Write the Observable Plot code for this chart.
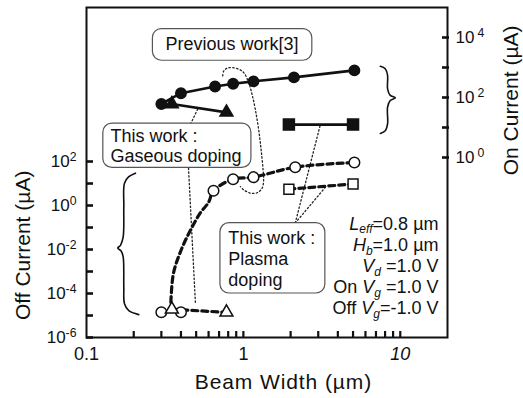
<!DOCTYPE html>
<html><head><meta charset="utf-8">
<script src="https://cdn.jsdelivr.net/npm/d3@7"></script>
<script src="https://cdn.jsdelivr.net/npm/@observablehq/plot@0.6"></script>
<style>
body{margin:0;background:#fff;}
svg{font-family:"Liberation Sans",Arial,sans-serif;}
</style>
</head><body><div id="chart"></div>
<script>
// ---------- data ----------
// Previous work [3]: on current (filled circles) and off current (open circles)
const prevOnX = [0.3, 0.4, 0.66, 0.86, 1.16, 2.1, 5.1];
const prevOnY = [61, 139, 233, 288, 345, 468, 800];          // µA (right axis)
const prevOffX = [0.3, 0.4, 0.645, 0.86, 1.16, 2.14, 5.1];
const prevOffY = [1.4e-5, 1.4e-5, 4.7, 15.7, 19.4, 55, 90];  // µA (left axis)
// dashed trend drawn from the bottom points up to the off-current circles
const prevOffFitX = [0.345, 0.358, 0.40, 0.46, 0.53, 0.6, 0.645];
const prevOffFitY = [3.9e-5, 8e-4, 9e-3, 0.076, 0.45, 1.4, 4.7];
// This work: gaseous doping (triangles)
const gasX = [0.35, 0.78];
const gasOnY = [61, 32];
const gasOffY = [1.9e-5, 1.4e-5];
// This work: plasma doping (squares)
const plasmaX = [1.95, 5.0];
const plasmaOnY = [12.5, 12.5];
const plasmaOffY = [5.5, 9.5];

// axes
const xTickValues = [0.2,0.3,0.4,0.5,0.6,0.7,0.8,0.9,1,2,3,4,5,6,7,8,9,10];
const xLabelValues = [0.1, 1, 10];
const xLabelTexts = ["0.1", "1", "10"];
const xLabelItalic = [false, false, true];
const offTickExps = [-6,-5,-4,-3,-2,-1,0,1,2];
const offLabelExps = [-6,-4,-2,0,2];
const onTickExps = [0,1,2,3,4];
const onLabelExps = [0,2,4];

// annotations (data coordinates: x in µm, y as log10 of off-current scale unless noted)
const boxes = [
  {x1: 0.265, x2: 2.75, e1: 8.02, e2: 6.58},   // Previous work[3]
  {x1: 0.128, x2: 1.125, e1: 3.72, e2: 1.71},  // gaseous
  {x1: 0.714, x2: 3.33, e1: -0.80, e2: -4.0}   // plasma
];
const labelPrev = {x: 0.845, e: 7.33, text: "Previous work[3]"};
const gasLabelX = 0.142, gasLabelE = [3.13, 2.25], gasLabelText = ["This work :", "Gaseous doping"];
const plasmaLabelX = 0.802, plasmaLabelE = [-1.49, -2.45, -3.41], plasmaLabelText = ["This work :", "Plasma", "doping"];
const paramE = [-0.85, -1.81, -2.77, -3.73, -4.69];
const paramParts = [
  [["L","i"],["eff","s"],["=0.8 µm",""]],
  [["H","i"],["b","s"],["=1.0 µm",""]],
  [["V","i"],["d","s"],[" =1.0 V",""]],
  [["On ",""],["V","i"],["g","s"],[" =1.0 V",""]],
  [["Off ",""],["V","i"],["g","s"],["=-1.0 V",""]]
];
// dotted leader lines [x, e]
const leaders = [
  [[0.46, 3.70], [0.517, 4.45]],
  [[0.447, 1.70], [0.495, -4.5]],
  [[2.14, -0.80], [3.1, 3.70]],
  [[2.14, -0.80], [3.33, 0.83]]
];
const loopX = [0.738,0.749,0.787,0.847,0.934,1.005,1.081,1.136,1.192,1.251,1.297,1.335,1.346,1.315,1.223,1.109,1.005,0.957];
const loopE = [5.89,6.11,6.24,6.27,6.19,6.04,5.58,5.05,4.36,3.45,2.54,1.62,1.17,0.78,0.58,0.56,0.71,0.86];
// braces
const braceLX = [0.205,0.186,0.1746,0.1729,0.1713,0.1647,0.1582,0.1663,0.1713,0.1729,0.1746,0.186,0.2153];
const braceLE = [1.47,1.31,1.01,-0.06,-1.43,-1.81,-1.93,-2.07,-2.34,-3.71,-4.47,-4.78,-4.96];
const braceRX = [7.46,8.02,8.30,8.30,8.63,9.29,8.63,8.30,8.30,8.02,7.46];
const braceRE = [3.04,2.96,2.74,2.29,2.07,1.99,1.90,1.68,1.12,0.89,0.80]; // log10 on-current

// ---------- helpers ----------
// right axis (on current, 1e-6..1e5) shares the frame with left axis (off current, 1e-6..1e9)
const onY = v => 10 ** (-6 + (Math.log10(v) + 6) * 15 / 11);
const P = e => 10 ** e;

const W = 523, H = 398, mL = 86, mR = 76, mT = 7, mB = 61;
const fw = W - mL - mR, fh = H - mT - mB;

const onPrev = prevOnX.map((x, i) => ({x, y: onY(prevOnY[i])}));
const offPrev = prevOffX.map((x, i) => ({x, y: prevOffY[i]}));
const offPrevLine = prevOffFitX.map((x, i) => ({x, y: prevOffFitY[i]}))
  .concat(offPrev.slice(3));
const onGas = gasX.map((x, i) => ({x, y: onY(gasOnY[i])}));
const offGas = gasX.map((x, i) => ({x, y: gasOffY[i]}));
const onPlasma = plasmaX.map((x, i) => ({x, y: onY(plasmaOnY[i])}));
const offPlasma = plasmaX.map((x, i) => ({x, y: plasmaOffY[i]}));

const leaderRows = leaders.flatMap((l, k) => l.map(([x, e]) => ({x, y: P(e), k})));
const loopRows = loopX.map((x, i) => ({x, y: P(loopE[i])}));
const braceL = braceLX.map((x, i) => ({x, y: P(braceLE[i])}));
const braceR = braceRX.map((x, i) => ({x, y: onY(P(braceRE[i]))}));

const ink = "#111";
const dotted = {stroke: "#222", strokeWidth: 1.3, strokeDasharray: "1.4,2.4"};
const thickDash = {stroke: ink, strokeWidth: 3.2, strokeDasharray: "6,4"};

const chart = Plot.plot({
  width: W, height: H,
  marginLeft: mL, marginRight: mR, marginTop: mT, marginBottom: mB,
  x: {type: "log", domain: [0.1, 20], axis: null},
  y: {type: "log", domain: [1e-6, 1e9], axis: null},
  style: {fontFamily: "'Liberation Sans', Arial, sans-serif", color: ink, background: "white"},
  marks: [
    // ticks
    Plot.ruleX(xTickValues, {x: d => d, insetTop: fh - 6, stroke: ink, strokeWidth: 2.2}),
    Plot.ruleY(offTickExps, {y: e => P(e), insetRight: fw - 7, stroke: ink, strokeWidth: 2.6}),
    Plot.ruleY(onTickExps, {y: e => onY(P(e)), insetLeft: fw - 5, insetRight: -2, stroke: ink, strokeWidth: 2.6}),
    // leaders & loop
    Plot.line(leaderRows, {x: "x", y: "y", z: "k", ...dotted}),
    Plot.line(loopRows, {x: "x", y: "y", curve: "catmull-rom", ...dotted}),
    // braces
    Plot.line(braceL, {x: "x", y: "y", curve: "catmull-rom", stroke: ink, strokeWidth: 1.6}),
    Plot.line(braceR, {x: "x", y: "y", curve: "catmull-rom", stroke: ink, strokeWidth: 1.6}),
    // boxes
    Plot.rect(boxes, {x1: "x1", x2: "x2", y1: d => P(d.e1), y2: d => P(d.e2), rx: 9, fill: "white", stroke: "#555", strokeWidth: 1.2}),
    // data lines
    Plot.line(onPrev, {x: "x", y: "y", stroke: ink, strokeWidth: 2.6}),
    Plot.line(onGas, {x: "x", y: "y", stroke: ink, strokeWidth: 2.6}),
    Plot.line(onPlasma, {x: "x", y: "y", stroke: ink, strokeWidth: 2.6}),
    Plot.line(offPrevLine, {x: "x", y: "y", curve: "catmull-rom", ...thickDash}),
    Plot.line(offGas, {x: "x", y: "y", ...thickDash}),
    Plot.line(offPlasma, {x: "x", y: "y", ...thickDash}),
    // markers
    Plot.dot(onPrev, {x: "x", y: "y", r: 5.2, fill: ink, stroke: ink, symbol: "circle"}),
    Plot.dot(onGas, {x: "x", y: "y", r: 4.8, fill: ink, stroke: ink, symbol: "triangle"}),
    Plot.dot(onPlasma, {x: "x", y: "y", r: 6.2, fill: ink, stroke: ink, symbol: "square"}),
    Plot.dot(offPrev, {x: "x", y: "y", r: 5.3, fill: "white", stroke: ink, strokeWidth: 1.5, symbol: "circle"}),
    Plot.dot(offGas, {x: "x", y: "y", r: 4.8, fill: "white", stroke: ink, strokeWidth: 1.5, symbol: "triangle"}),
    Plot.dot(offPlasma, {x: "x", y: "y", r: 5.6, fill: "white", stroke: ink, strokeWidth: 1.5, symbol: "square"}),
    // frame
    Plot.frame({stroke: ink, strokeWidth: 2}),
    // tick labels
    Plot.text(offLabelExps, {x: 0.1, y: e => P(e), text: e => "10^" + e, textAnchor: "end", dx: -10, fontSize: 17, fill: ink, ariaDescription: "sup-left"}),
    Plot.text(onLabelExps, {x: 20, y: e => onY(P(e)), text: e => "10^" + e, textAnchor: "start", dx: 8, fontSize: 17, fill: ink, ariaDescription: "sup-right"}),
    Plot.text(xLabelValues.filter((v, i) => !xLabelItalic[i]), {x: d => d, y: 1e-6, text: d => xLabelTexts[xLabelValues.indexOf(d)], dy: 17, fontSize: 18, fill: ink}),
    Plot.text(xLabelValues.filter((v, i) => xLabelItalic[i]), {x: d => d, y: 1e-6, text: d => xLabelTexts[xLabelValues.indexOf(d)], dy: 17, fontSize: 18, fontStyle: "italic", fill: ink}),
    // axis titles
    Plot.text(["Beam Width (µm)"], {x: 1.8, y: 1e-6, text: d => d, dy: 45, fontSize: 21, fill: ink, ariaDescription: "xtitle"}),
    Plot.text(["Off Current (µA)"], {x: 0.1, y: P(-1.81), text: d => d, dx: -63, rotate: -90, fontSize: 21, fill: ink}),
    Plot.text(["On Current (µA)"], {x: 20, y: onY(80), text: d => d, dx: 64, rotate: -90, fontSize: 21, fill: ink}),
    // annotation texts
    Plot.text([labelPrev], {x: "x", y: d => P(d.e), text: "text", fontSize: 18, fill: ink}),
    Plot.text(gasLabelText, {x: gasLabelX, y: (d, i) => P(gasLabelE[i]), text: d => d, textAnchor: "start", fontSize: 18, fill: ink}),
    Plot.text(plasmaLabelText, {x: plasmaLabelX, y: (d, i) => P(plasmaLabelE[i]), text: d => d, textAnchor: "start", fontSize: 18, fill: ink}),
    Plot.text(paramParts, {x: 20, y: (d, i) => P(paramE[i]), text: d => d.map(p => p[0]).join(""), textAnchor: "end", dx: -9, fontSize: 18, fill: ink, ariaDescription: "params"})
  ]
});

const svg = d3.select(chart);
// superscripts
svg.selectAll('g[aria-description="sup-left"] text, g[aria-description="sup-right"] text').each(function() {
  const right = this.parentNode.getAttribute("aria-description") === "sup-right";
  const [b, e] = this.textContent.split("^");
  const sel = d3.select(this);
  sel.text(b);
  sel.append("tspan").attr("dy", "-0.5em").attr("dx", right ? 3 : 0).attr("font-size", "0.72em").text(e);
});
// parameter lines with italic symbols and subscripts
svg.selectAll('g[aria-description="params"] text').each(function(d, i) {
  const sel = d3.select(this);
  sel.text("");
  let shifted = false;
  paramParts[i].forEach(([t, s]) => {
    const ts = sel.append("tspan").text(t);
    if (s === "i") ts.attr("font-style", "italic");
    if (s === "s") { ts.attr("font-style", "italic").attr("font-size", 12).attr("dy", 3.5); shifted = true; }
    else if (shifted) { ts.attr("dy", -3.5); shifted = false; }
  });
});
svg.selectAll('g[aria-description="xtitle"] text').attr("letter-spacing", "0.9px");

document.getElementById("chart").appendChild(chart);
</script>
</body></html>
